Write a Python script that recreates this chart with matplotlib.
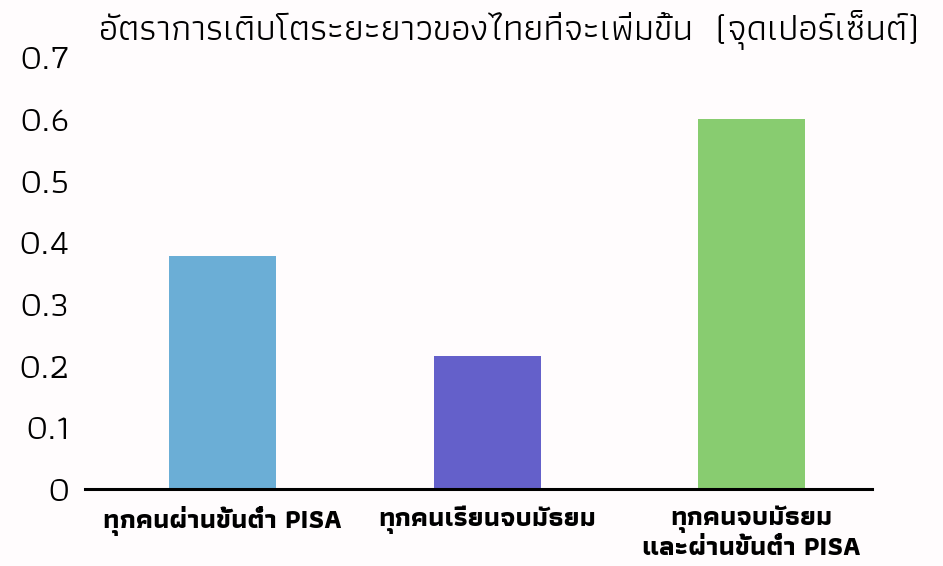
import matplotlib
matplotlib.use("Agg")
import matplotlib.pyplot as plt

categories = ["ทุกคนผ่านขั้นต่ำ PISA", "ทุกคนเรียนจบมัธยม", "ทุกคนจบมัธยม\nและผ่านขั้นต่ำ PISA"]
values = [0.378, 0.215, 0.6]
colors = ["#6BAED6", "#6460CA", "#88CC70"]
yticks = [0, 0.1, 0.2, 0.3, 0.4, 0.5, 0.6, 0.7]
ytick_labels = ["0", "0.1", "0.2", "0.3", "0.4", "0.5", "0.6", "0.7"]
title = "อัตราการเติบโตระยะยาวของไทยที่จะเพิ่มขึ้น  (จุดเปอร์เซ็นต์)"

FONT = ["Athiti", "DejaVu Sans"]
bg = "#fffcfd"

fig = plt.figure(figsize=(9.43, 5.66), dpi=100, facecolor=bg)
ax = fig.add_axes([0.0901, 0.136, 0.8346, 0.763], facecolor=bg)

x = list(range(len(categories)))
ax.bar(x, values, width=0.405, color=colors)

ax.set_xlim(-0.52, 2.455)
ax.set_ylim(0, 0.7)
ax.set_yticks(yticks)
ax.set_yticklabels(ytick_labels, family=FONT, fontsize=26)
ax.set_xticks(x)
ax.set_xticklabels(categories, family=FONT, fontsize=19.5, fontweight="bold",
                   linespacing=1.2, va="top")

for s in ["top", "right", "left"]:
    ax.spines[s].set_visible(False)
ax.spines["bottom"].set_linewidth(2.2)
ax.spines["bottom"].set_color("black")
ax.tick_params(axis="y", length=0, pad=11)
ax.tick_params(axis="x", length=0, pad=12)

fig.text(509 / 943, 1 - 30 / 566, title, family=FONT, fontsize=26.6,
         ha="center", va="center")

fig.savefig("out.png", dpi=100, facecolor=bg)
